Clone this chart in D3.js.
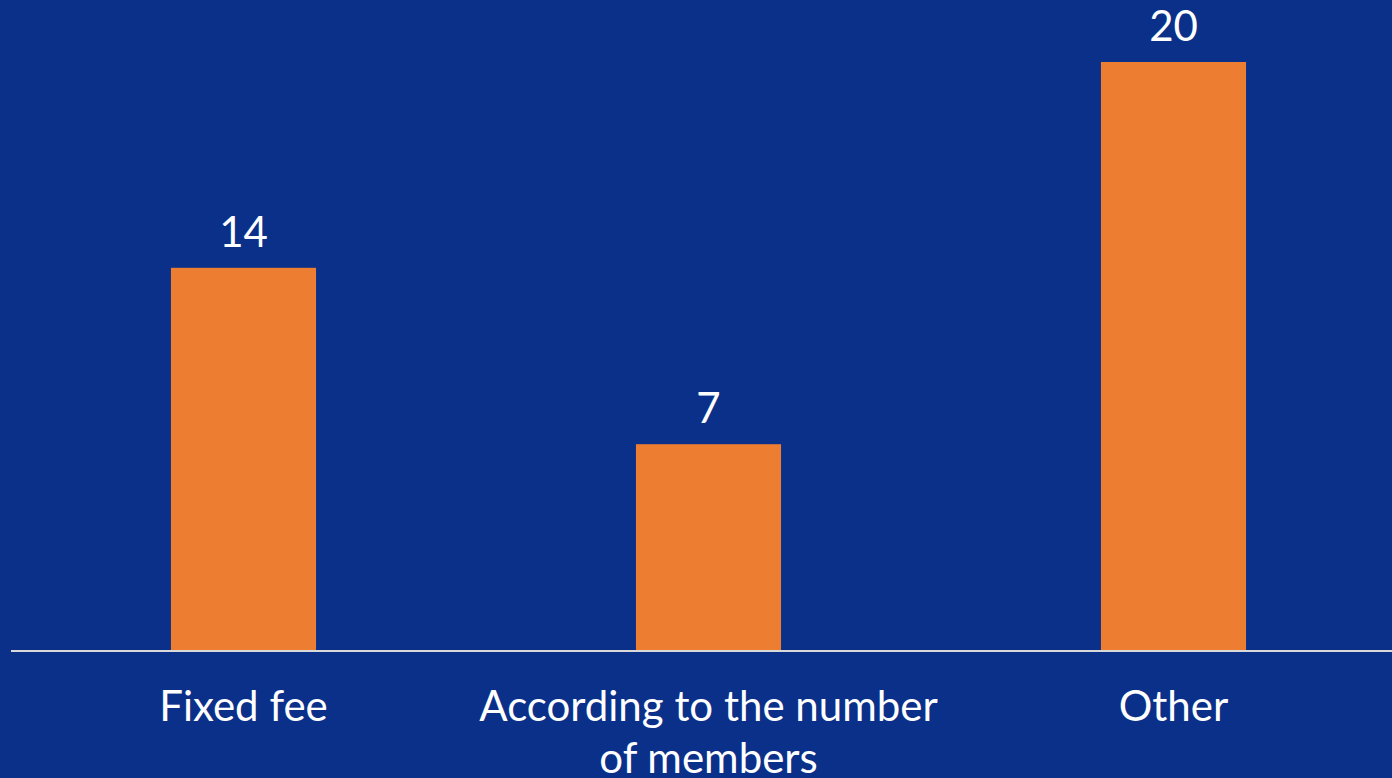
<!DOCTYPE html>
<html>
<head>
<meta charset="utf-8">
<script src="https://cdn.jsdelivr.net/npm/d3@7"></script>
<style>
  html, body { margin: 0; padding: 0; background: #0B308A; }
  svg { display: block; }
</style>
</head>
<body>
<svg id="chart" width="1392" height="778"></svg>
<script>
// Data
const categories = ["Fixed fee", "According to the number of members", "Other"];
const categoryLines = [["Fixed fee"], ["According to the number", "of members"], ["Other"]];
// bar lengths as drawn in the reference
const values = [13, 7, 20];
// data labels as printed in the reference
const valueLabels = ["14", "7", "20"];
const yTicks = [0, 20];

const W = 1392, H = 778;
const svg = d3.select("#chart");
svg.append("rect").attr("width", W).attr("height", H).attr("fill", "#0B308A");

const x = d3.scaleBand().domain(categories).range([11, 1406]).padding(0);
const y = d3.scaleLinear().domain([0, 20]).range([650, 62]);
const barW = x.bandwidth() * 0.312;

const data = categories.map((c, i) => ({ c, v: values[i], label: valueLabels[i], lines: categoryLines[i] }));

svg.selectAll("rect.bar").data(data).join("rect")
  .attr("class", "bar")
  .attr("x", d => x(d.c) + x.bandwidth() / 2 - barW / 2)
  .attr("y", d => y(d.v))
  .attr("width", barW)
  .attr("height", d => y(0) - y(d.v))
  .attr("fill", "#ED7D31");

// baseline axis
svg.append("line")
  .attr("x1", 11).attr("x2", W)
  .attr("y1", y(0) + 1).attr("y2", y(0) + 1)
  .attr("stroke", "#D9D9D9").attr("stroke-width", 2);

// value labels
svg.selectAll("text.val").data(data).join("text")
  .attr("class", "val")
  .attr("x", d => x(d.c) + x.bandwidth() / 2)
  .attr("y", d => y(d.v) - 21)
  .attr("text-anchor", "middle")
  .attr("font-family", "Lato, sans-serif")
  .attr("font-size", 42)
  .attr("fill", "#FFFFFF")
  .text(d => d.label);

// category labels
const cat = svg.selectAll("text.cat").data(data).join("text")
  .attr("class", "cat")
  .attr("text-anchor", "middle")
  .attr("font-family", "Lato, sans-serif")
  .attr("font-size", 42)
  .attr("fill", "#FFFFFF");
cat.selectAll("tspan").data(d => d.lines.map(l => ({ l, cx: x(d.c) + x.bandwidth() / 2 }))).join("tspan")
  .attr("x", d => d.cx)
  .attr("y", (d, i) => 721 + i * 52)
  .text(d => d.l);
</script>
</body>
</html>
